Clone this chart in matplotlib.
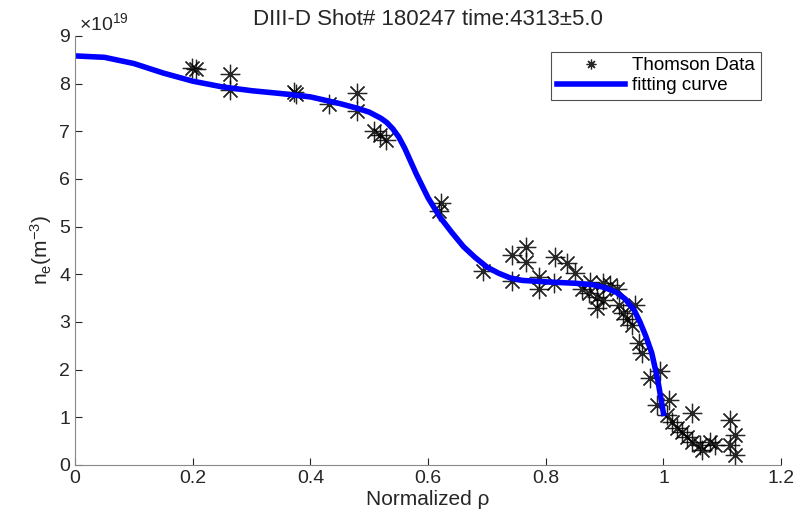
import numpy as np
import matplotlib.pyplot as plt

plt.rcParams['font.family'] = ['Liberation Sans', 'DejaVu Sans']
plt.rcParams['mathtext.fontset'] = 'custom'
plt.rcParams['mathtext.rm'] = 'Liberation Sans'

# Thomson scattering points (rho, ne / 1e19)
rho_data = [0.198, 0.206, 0.264, 0.264, 0.372, 0.376, 0.432, 0.479, 0.479,
            0.508, 0.518, 0.529, 0.622, 0.618, 0.693, 0.742, 0.767, 0.767,
            0.742, 0.789, 0.789, 0.815, 0.836, 0.850, 0.814, 0.875, 0.873,
            0.861, 0.887, 0.887, 0.898, 0.909, 0.921, 0.898, 0.924, 0.932,
            0.952, 0.938, 0.946, 0.958, 0.963, 0.977, 0.994, 0.989, 1.009,
            1.006, 1.048, 1.014, 1.023, 1.031, 1.040, 1.048, 1.062, 1.065,
            1.079, 1.088, 1.113, 1.122, 1.113, 1.122]
ne_data = [8.33, 8.30, 8.21, 7.86, 7.83, 7.78, 7.58, 7.81, 7.43,
           7.01, 6.92, 6.81, 5.50, 5.32, 4.07, 4.40, 4.58, 4.26,
           3.85, 3.94, 3.69, 4.36, 4.23, 4.02, 3.81, 3.84, 3.60,
           3.70, 3.53, 3.29, 3.81, 3.77, 3.70, 3.46, 3.35, 3.18,
           3.35, 3.07, 2.94, 2.55, 2.34, 1.82, 1.96, 1.26, 1.36,
           1.05, 1.08, 0.91, 0.77, 0.70, 0.59, 0.49, 0.42, 0.31,
           0.49, 0.42, 0.94, 0.63, 0.42, 0.21]

# fitted profile
rho_fit = [0, 0.05, 0.1, 0.15, 0.2, 0.25, 0.3, 0.35, 0.4, 0.45, 0.48, 0.5,
           0.52, 0.53, 0.54, 0.55, 0.56, 0.58, 0.6, 0.62, 0.64, 0.66, 0.68,
           0.7, 0.72, 0.74, 0.76, 0.8, 0.85, 0.88, 0.9, 0.92, 0.935, 0.95,
           0.96, 0.97, 0.98, 0.99, 1.0]
ne_fit = [8.58, 8.55, 8.42, 8.22, 8.05, 7.93, 7.85, 7.79, 7.72, 7.58, 7.48,
          7.40, 7.27, 7.18, 7.05, 6.88, 6.65, 6.10, 5.60, 5.20, 4.88, 4.58,
          4.35, 4.15, 4.02, 3.92, 3.87, 3.84, 3.81, 3.78, 3.72, 3.62, 3.48,
          3.25, 3.00, 2.70, 2.35, 1.80, 1.08]

fig = plt.figure(figsize=(8.07, 5.2), dpi=100)
ax = fig.add_axes([0.093, 0.106, 0.875, 0.825])

grey = '#262626'
ax.plot(rho_data, ne_data, linestyle='none', marker=(8, 2, 0), markersize=14,
        markeredgewidth=0.9, color='black', alpha=0.85, label='Thomson Data')
ax.plot(rho_fit, ne_fit, color='#0000ff', linewidth=4.0, label='fitting curve')

ax.set_xlim(0, 1.2)
ax.set_ylim(0, 9)
ax.set_xticks(np.arange(0, 1.21, 0.2))
ax.set_xticklabels(['0', '0.2', '0.4', '0.6', '0.8', '1', '1.2'])
ax.set_yticks(range(10))
ax.tick_params(direction='in', length=5, color=grey, labelcolor=grey,
               labelsize=14)
for s in ['top', 'right']:
    ax.spines[s].set_visible(False)
for s in ['left', 'bottom']:
    ax.spines[s].set_color('#888888')

ax.text(0.005, 1.003, r'$\times\mathregular{10^{19}}$', transform=ax.transAxes,
        fontsize=14, color=grey, va='bottom', ha='left')
ax.set_title('DIII-D Shot# 180247 time:4313±5.0', fontsize=16, color=grey,
             pad=8)
ax.set_xlabel('Normalized ρ', fontsize=15, color=grey, labelpad=2)
ax.set_ylabel(r'$\mathregular{n_e(m^{-3})}$', fontsize=15, color=grey,
              labelpad=4)

leg = ax.legend(loc='upper right', bbox_to_anchor=(0.984, 0.985), fontsize=13.5,
                frameon=True, fancybox=False, handlelength=3.6,
                borderpad=0.3, labelspacing=0.15, markerscale=0.5,
                handletextpad=0.4)
leg.get_frame().set_edgecolor(grey)
leg.get_frame().set_linewidth(0.8)

fig.savefig('out.png', dpi=100)
